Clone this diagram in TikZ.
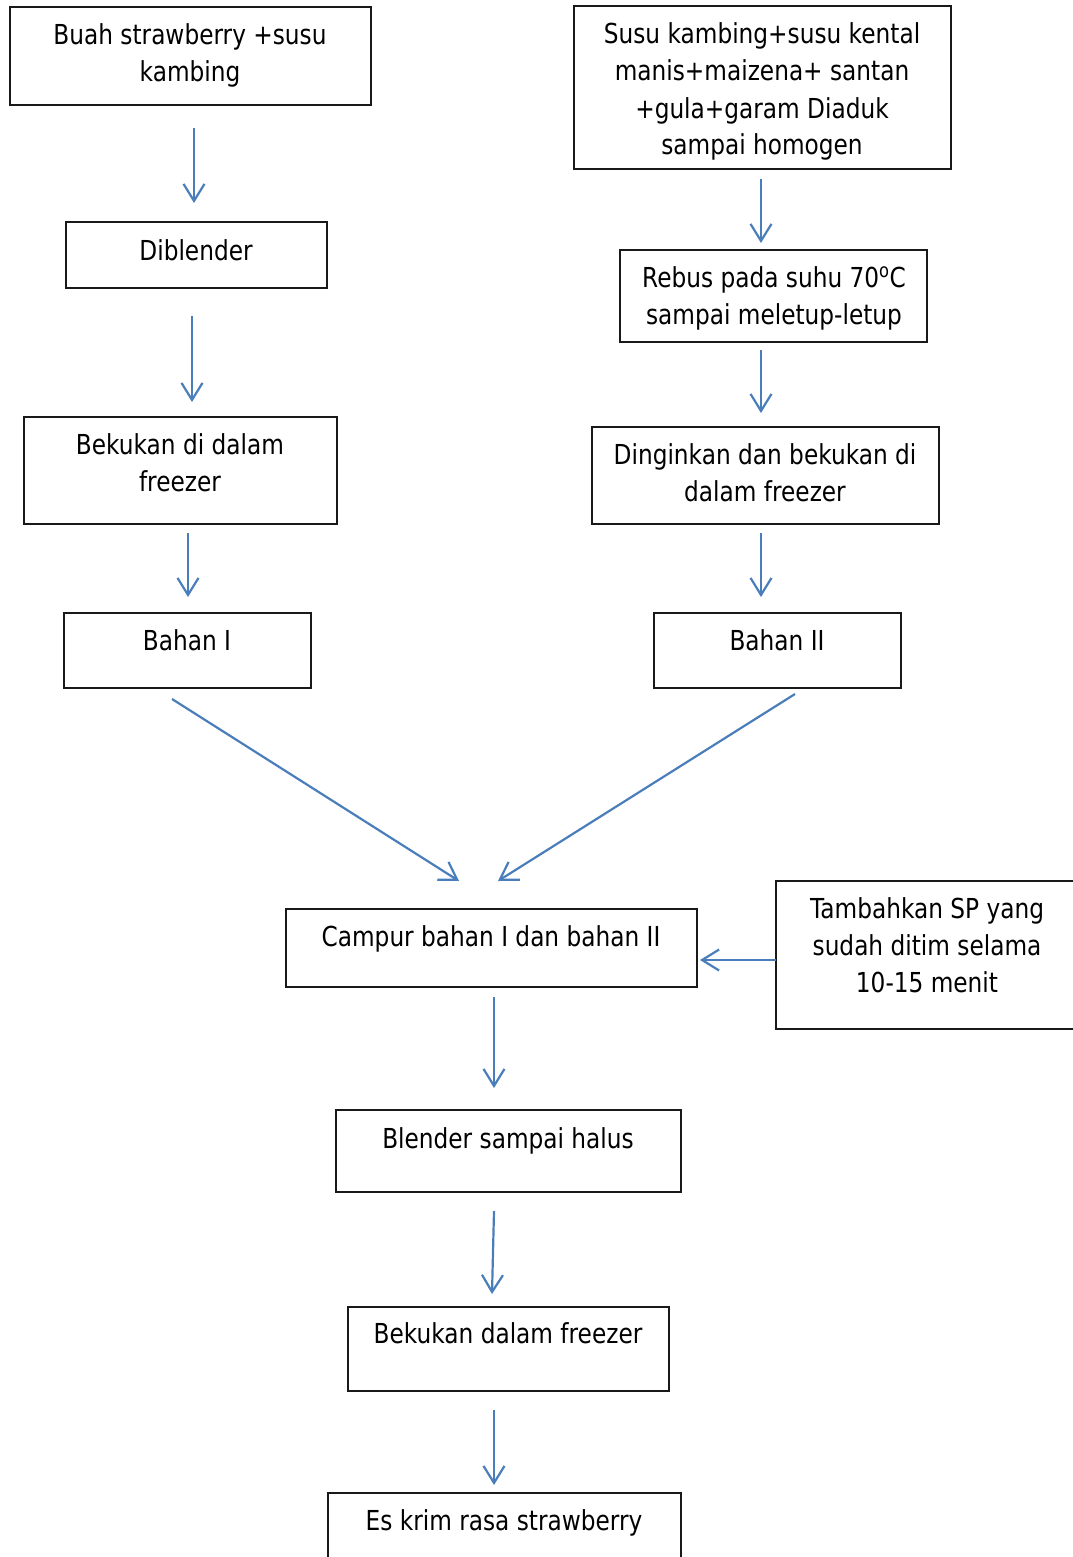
\documentclass[tikz,border=0pt]{standalone}
\usepackage{fontspec}
\setmainfont{DejaVu Sans}[FakeStretch=0.845]
\usetikzlibrary{arrows.meta,fit}
\definecolor{arrblue}{HTML}{4A7EBB}
\tikzset{
  box/.style={draw=black!90, line width=1.3pt, inner sep=0pt, rectangle},
  txt/.style={align=center, anchor=base, inner sep=0pt, font=\fontsize{27.5}{37}\selectfont},
  arr/.style={draw=arrblue, line width=2.2pt, -{Straight Barb[length=17pt,width=21pt,line width=2.2pt]}}
}
\begin{document}
\begin{tikzpicture}[x=1pt,y=-1pt]
\useasboundingbox (0,0) rectangle (1072,1557);
% boxes
\node[box, fit={(10,7) (371,105)}] (b1) {};
\node[box, fit={(66,222) (327,288)}] (b2) {};
\node[box, fit={(24,417) (337,524)}] (b3) {};
\node[box, fit={(64,613) (311,688)}] (b4) {};
\node[box, fit={(574,6) (951,169)}] (b5) {};
\node[box, fit={(620,250) (927,342)}] (b6) {};
\node[box, fit={(592,427) (939,524)}] (b7) {};
\node[box, fit={(654,613) (901,688)}] (b8) {};
\node[box, fit={(286,909) (697,987)}] (b9) {};
\node[box, fit={(776,881) (1090,1029)}] (b10) {};
\node[box, fit={(336,1110) (681,1192)}] (b11) {};
\node[box, fit={(348,1307) (669,1391)}] (b12) {};
\node[box, fit={(328,1493) (681,1580)}] (b13) {};
% texts (anchor = baseline of the last line)
\node[txt] (t1) at (190,82) {Buah strawberry +susu\\kambing};
\node[txt] (t2) at (196,260) {Diblender};
\node[txt] (t3) at (180,491) {Bekukan di dalam\\freezer};
\node[txt] (t4) at (187,650) {Bahan I};
\node[txt] (t5) at (762,155) {Susu kambing+susu kental\\manis+maizena+ santan\\+gula+garam Diaduk\\sampai homogen};
\node[txt] (t6) at (774,324) {Rebus pada suhu 70\textsuperscript{o}C\\sampai meletup-letup};
\node[txt] (t7) at (765,501) {Dinginkan dan bekukan di\\dalam freezer};
\node[txt] (t8) at (777,650) {Bahan II};
\node[txt] (t9) at (491,946) {Campur bahan I dan bahan II};
\node[txt] (t10) at (927,992) {Tambahkan SP yang\\sudah ditim selama\\10-15 menit};
\node[txt] (t11) at (508,1148) {Blender sampai halus};
\node[txt] (t12) at (508,1343) {Bekukan dalam freezer};
\node[txt] (t13) at (504,1530) {Es krim rasa strawberry};
% arrow end points
\coordinate (a1s) at (194,128);  \coordinate (a1e) at (194,203);
\coordinate (a2s) at (192,316);  \coordinate (a2e) at (192,402);
\coordinate (a3s) at (188,533);  \coordinate (a3e) at (188,597);
\coordinate (a4s) at (761,179);  \coordinate (a4e) at (761,243);
\coordinate (a5s) at (761,350);  \coordinate (a5e) at (761,413);
\coordinate (a6s) at (761,533);  \coordinate (a6e) at (761,597);
\coordinate (a7s) at (172,699);  \coordinate (a7e) at (459,881);
\coordinate (a8s) at (795,694);  \coordinate (a8e) at (498,881);
\coordinate (a9s) at (776,960);  \coordinate (a9e) at (700,960);
\coordinate (a10s) at (494,997); \coordinate (a10e) at (494,1088);
\coordinate (a11s) at (494,1211);\coordinate (a11e) at (492,1294);
\coordinate (a12s) at (494,1410);\coordinate (a12e) at (494,1485);
\foreach \i in {1,...,12} \draw[arr] (a\i s) -- (a\i e);
\end{tikzpicture}
\end{document}
